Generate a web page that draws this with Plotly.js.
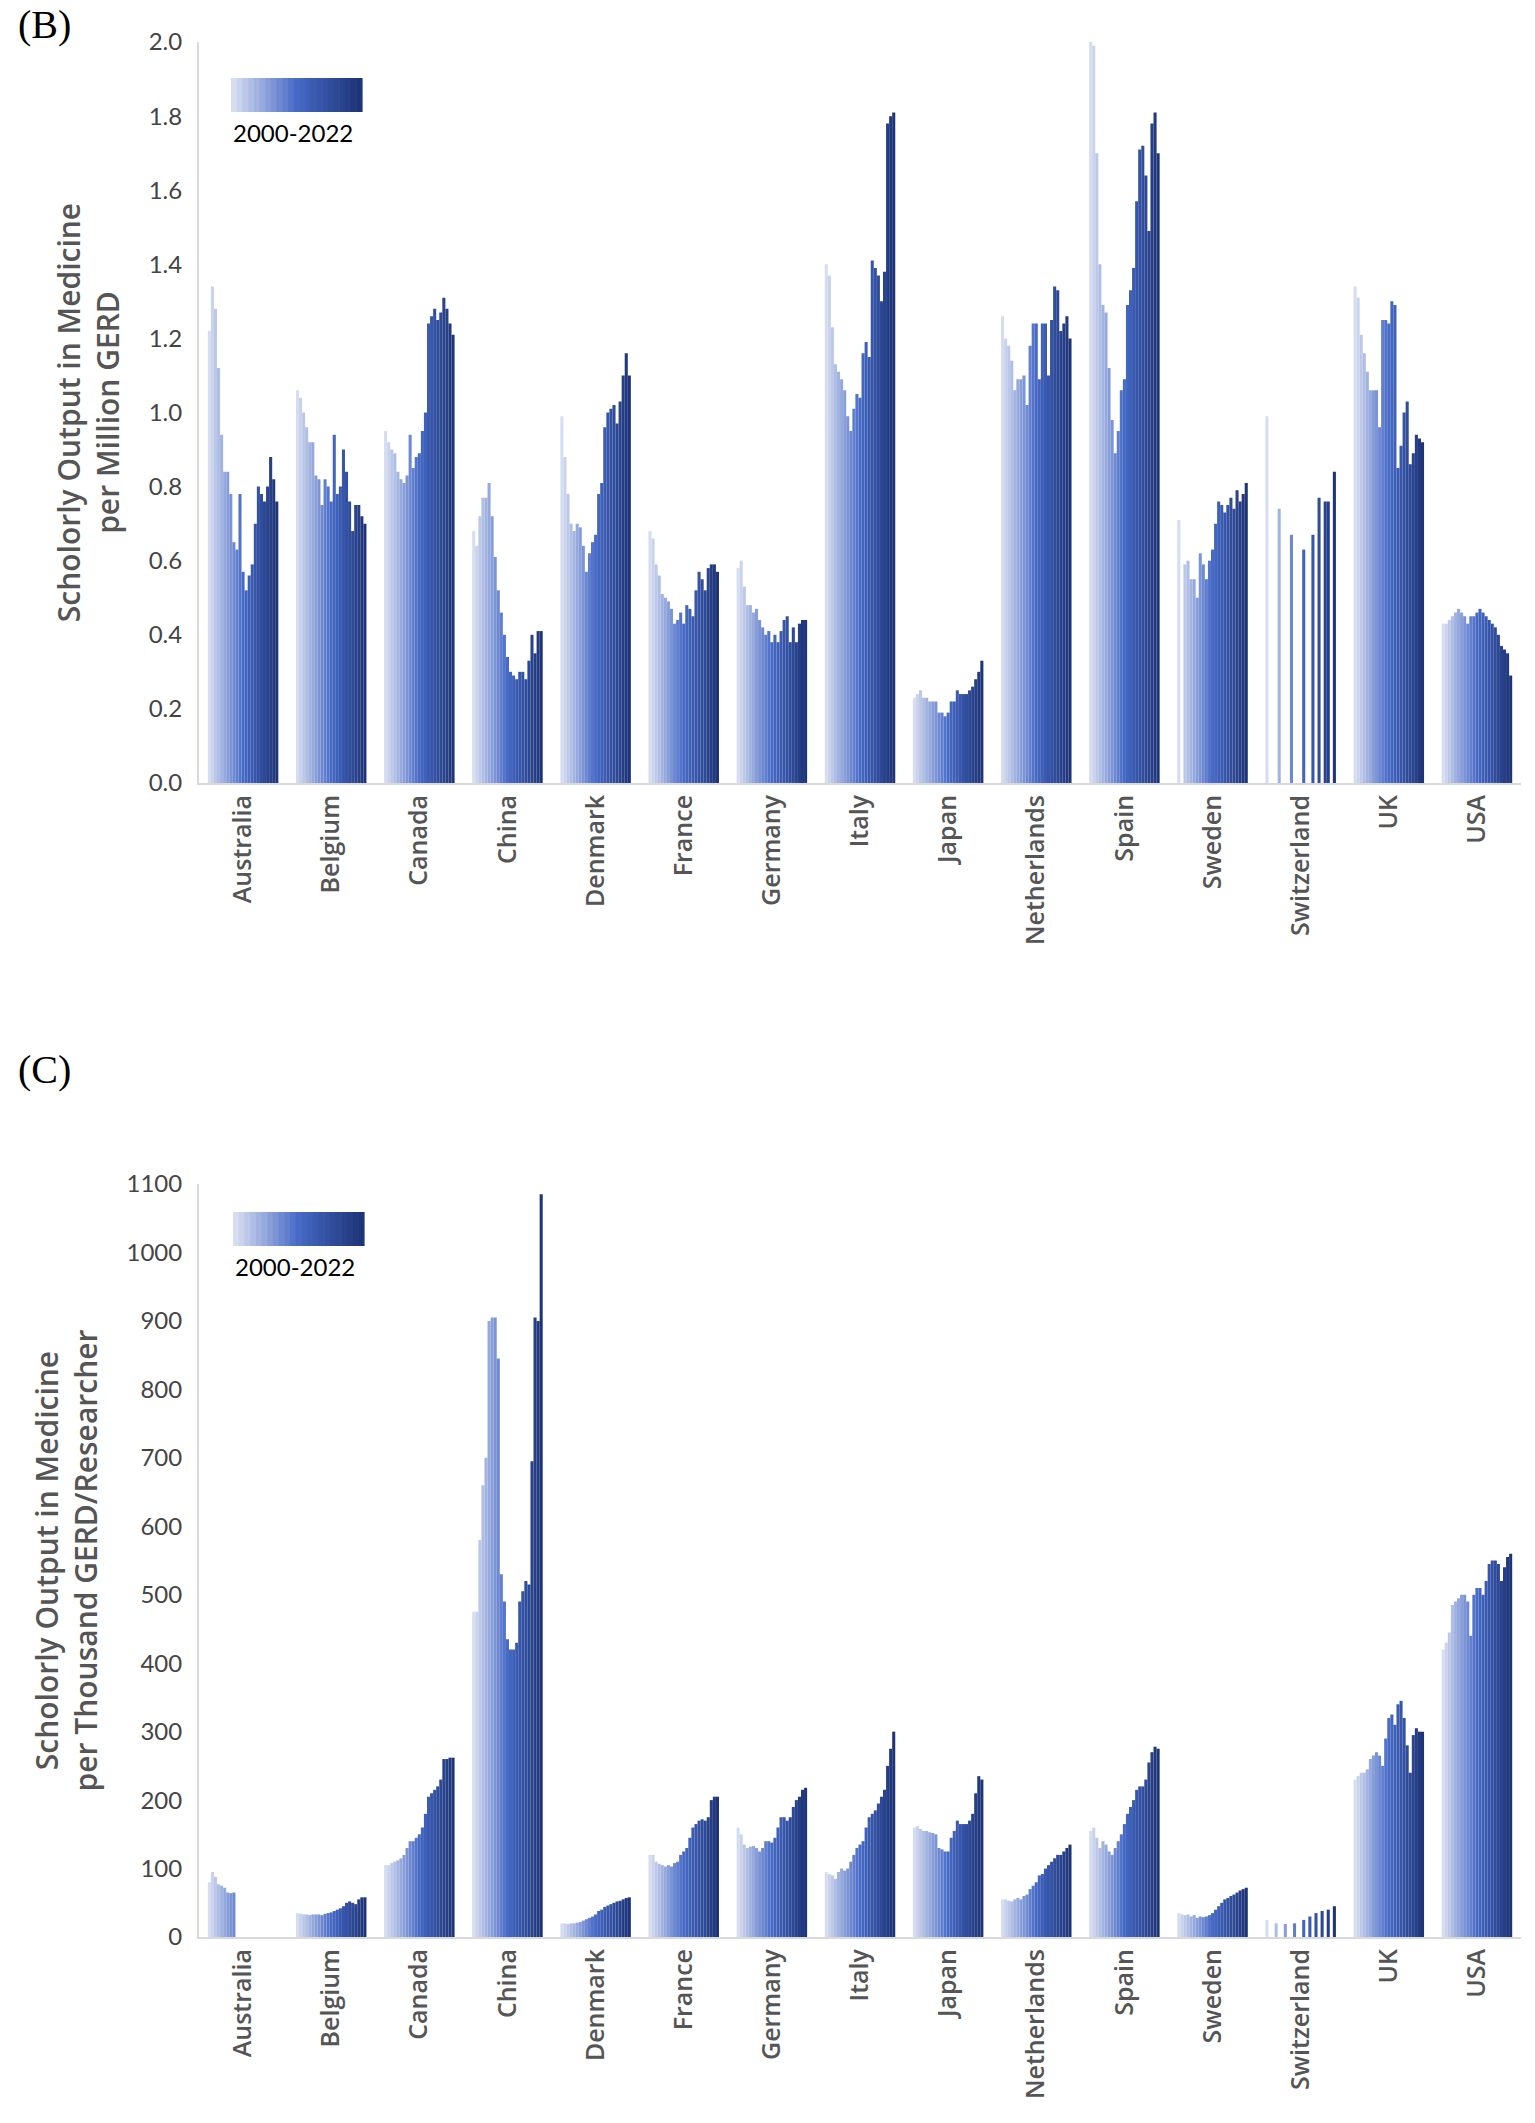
<!DOCTYPE html>
<html>
<head>
<meta charset="utf-8">
<script src="https://cdn.plot.ly/plotly-3.0.1.min.js"></script>
<style>body{margin:0;background:#fff}#myDiv{width:1535px;height:2123px}</style>
</head>
<body>
<div id="myDiv"></div>
<script>
var countries = ['Australia','Belgium','Canada','China','Denmark','France','Germany','Italy','Japan','Netherlands','Spain','Sweden','Switzerland','UK','USA'];
var years = [];
for (var yr = 2000; yr <= 2022; yr++) years.push(String(yr));

// Panel B: per million GERD, one row per country, 2000..2022
var gerdB = {
  Australia: [1.22,1.34,1.28,1.12,0.94,0.84,0.84,0.78,0.65,0.63,0.78,0.57,0.52,0.56,0.59,0.70,0.80,0.78,0.76,0.80,0.88,0.82,0.76],
  Belgium: [1.06,1.04,1.00,0.96,0.92,0.92,0.83,0.82,0.75,0.82,0.80,0.76,0.94,0.78,0.80,0.90,0.84,0.76,0.68,0.75,0.75,0.72,0.70],
  Canada: [0.95,0.92,0.90,0.89,0.84,0.82,0.81,0.83,0.94,0.85,0.88,0.89,0.95,1.00,1.24,1.26,1.28,1.25,1.27,1.31,1.28,1.24,1.21],
  China: [0.68,0.64,0.72,0.77,0.77,0.81,0.72,0.61,0.52,0.46,0.40,0.34,0.30,0.29,0.28,0.30,0.30,0.28,0.33,0.40,0.35,0.41,0.41],
  Denmark: [0.99,0.88,0.78,0.70,0.68,0.70,0.69,0.64,0.57,0.62,0.65,0.67,0.78,0.81,0.96,1.00,1.01,1.02,0.97,1.03,1.10,1.16,1.10],
  France: [0.68,0.66,0.59,0.56,0.51,0.50,0.49,0.47,0.43,0.44,0.46,0.43,0.48,0.47,0.45,0.52,0.57,0.55,0.52,0.58,0.59,0.59,0.57],
  Germany: [0.58,0.60,0.53,0.48,0.48,0.46,0.47,0.44,0.42,0.40,0.41,0.38,0.40,0.38,0.41,0.44,0.45,0.38,0.42,0.38,0.43,0.44,0.44],
  Italy: [1.40,1.37,1.23,1.13,1.11,1.09,1.06,0.99,0.95,1.01,1.05,1.04,1.16,1.19,1.15,1.41,1.39,1.37,1.30,1.38,1.78,1.80,1.81],
  Japan: [0.23,0.24,0.25,0.23,0.23,0.22,0.22,0.22,0.19,0.19,0.18,0.19,0.22,0.22,0.25,0.24,0.24,0.24,0.25,0.26,0.28,0.30,0.33],
  Netherlands: [1.26,1.20,1.18,1.14,1.06,1.09,1.09,1.10,1.02,1.18,1.24,1.24,1.09,1.24,1.24,1.10,1.25,1.34,1.33,1.22,1.24,1.26,1.20],
  Spain: [2.00,1.99,1.70,1.40,1.29,1.27,1.12,0.98,0.89,0.95,1.06,1.09,1.29,1.33,1.39,1.57,1.71,1.72,1.64,1.49,1.78,1.81,1.70],
  Sweden: [0.71,null,0.59,0.60,0.55,0.55,0.50,0.62,0.59,0.55,0.60,0.63,0.70,0.76,0.75,0.73,0.75,0.77,0.74,0.79,0.76,0.78,0.81],
  Switzerland: [0.99,null,null,null,0.74,null,null,null,0.67,null,null,null,0.63,null,null,0.67,null,0.77,null,0.76,0.76,null,0.84],
  UK: [1.34,1.31,1.21,1.16,1.11,1.06,1.06,1.06,0.96,1.25,1.25,1.24,1.30,1.29,0.85,0.91,1.00,1.03,0.86,0.89,0.94,0.93,0.92],
  USA: [0.43,0.43,0.44,0.45,0.46,0.47,0.46,0.45,0.43,0.45,0.45,0.46,0.47,0.46,0.45,0.44,0.43,0.42,0.40,0.37,0.36,0.35,0.29]
};

// Panel C: per thousand GERD/researcher
var gerdC = {
  Australia: [80,95,88,77,75,72,65,64,65,null,null,null,null,null,null,null,null,null,null,null,null,null,null],
  Belgium: [35,34,33,33,32,33,33,33,32,34,35,36,38,40,42,45,50,52,50,48,55,58,58],
  Canada: [105,105,108,110,112,115,120,130,140,140,145,150,160,180,205,210,215,220,230,260,260,262,262],
  China: [475,475,580,660,700,900,905,905,845,530,490,435,420,420,430,490,505,520,515,695,905,900,1085],
  Denmark: [20,20,19,20,20,21,22,24,26,28,30,33,38,40,44,46,48,50,52,53,55,57,58],
  France: [120,120,110,107,105,103,105,103,108,110,120,125,130,145,160,165,170,172,170,175,200,205,205],
  Germany: [160,150,135,130,132,133,130,125,130,140,140,138,145,160,175,175,170,175,190,200,205,215,218],
  Italy: [95,92,90,85,95,100,97,100,110,120,130,135,140,160,175,180,185,195,205,215,250,275,300],
  Japan: [160,162,158,155,155,153,152,150,130,128,125,125,145,155,170,165,165,165,170,180,210,235,230],
  Netherlands: [55,55,53,52,55,57,55,60,62,70,75,80,90,92,100,105,110,115,120,120,125,130,135],
  Spain: [155,160,145,130,140,135,125,120,130,140,150,165,180,190,200,215,220,220,230,255,270,278,275],
  Sweden: [35,33,32,33,30,32,28,30,29,30,32,35,40,45,50,55,57,60,62,65,68,70,72],
  Switzerland: [25,null,null,20,null,null,19,null,null,20,null,null,25,null,30,null,35,null,38,null,40,null,45],
  UK: [230,235,240,240,245,260,265,270,265,250,290,320,325,310,340,345,320,280,240,295,305,300,300],
  USA: [420,430,445,485,490,495,500,500,490,440,500,510,510,500,520,545,550,550,545,520,540,555,560]
};

function yearColor(i) {
  var stops = [[215,221,240],[70,106,198],[30,52,120]];
  var t = i / 22, a, b, f;
  if (t < 0.5) { a = stops[0]; b = stops[1]; f = t / 0.5; }
  else { a = stops[1]; b = stops[2]; f = (t - 0.5) / 0.5; }
  return 'rgb(' + [0,1,2].map(function (k) { return Math.round(a[k] + (b[k] - a[k]) * f); }).join(',') + ')';
}

var data = [];
years.forEach(function (y, i) {
  data.push({
    type: 'bar', x: countries, y: countries.map(function (c) { return gerdB[c][i]; }),
    name: y, marker: {color: yearColor(i)}, xaxis: 'x', yaxis: 'y', showlegend: false
  });
  data.push({
    type: 'bar', x: countries, y: countries.map(function (c) { return gerdC[c][i]; }),
    name: y, marker: {color: yearColor(i)}, xaxis: 'x2', yaxis: 'y2', showlegend: false
  });
});

var tickF = {family: 'Lato, sans-serif', size: 24, color: '#444'};
var catF = {family: 'Open Sans, sans-serif', size: 25, color: '#555', weight: 600};
var titF = {family: 'Open Sans, sans-serif', size: 30, color: '#555', weight: 600};

// legend gradient boxes
var shapes = [];
function legendBar(x0, y0) {
  var w = 131 / 23;
  for (var i = 0; i < 23; i++) {
    shapes.push({type: 'rect', xref: 'paper', yref: 'paper', layer: 'above',
      x0: (x0 + i * w - 199) / 1322, x1: (x0 + (i + 1) * w - 199 + 0.6) / 1322,
      y0: 1 - (y0 + 34) / 2123, y1: 1 - y0 / 2123,
      line: {width: 0}, fillcolor: yearColor(i)});
  }
}
legendBar(231, 78);
legendBar(233, 1212);

var layout = {
  width: 1535, height: 2123,
  margin: {l: 199, r: 14, t: 0, b: 0},
  paper_bgcolor: '#fff', plot_bgcolor: '#fff',
  barmode: 'group', bargap: 0.2, bargroupgap: 0,
  xaxis: {domain: [0, 1], anchor: 'y', tickangle: -90, tickfont: catF, showline: true, linecolor: '#d9d9d9', linewidth: 2, ticks: '', ticklen: 12, tickcolor: '#fff'},
  yaxis: {domain: [0.6312, 0.9802], range: [0, 2.0], dtick: 0.2, tickformat: '.1f', showgrid: false, showline: true, linecolor: '#d9d9d9', linewidth: 2, zeroline: false, tickfont: tickF, ticks: 'outside', ticklen: 10, tickcolor: '#fff',
    title: {text: 'Scholorly Output in Medicine<br>per Million GERD', font: titF, standoff: 20}},
  xaxis2: {domain: [0, 1], anchor: 'y2', tickangle: -90, tickfont: catF, showline: true, linecolor: '#d9d9d9', linewidth: 2, ticks: '', ticklen: 12, tickcolor: '#fff'},
  yaxis2: {domain: [0.0876, 0.4423], range: [0, 1100], dtick: 100, showgrid: false, showline: true, linecolor: '#d9d9d9', linewidth: 2, zeroline: false, tickfont: tickF, ticks: 'outside', ticklen: 10, tickcolor: '#fff',
    title: {text: 'Scholorly Output in Medicine<br>per Thousand GERD/Researcher', font: titF, standoff: 20}},
  shapes: shapes,
  annotations: [
    {text: '(B)', xref: 'paper', yref: 'paper', x: -199 / 1322, y: 1, xanchor: 'left', yanchor: 'top', showarrow: false, xshift: 16, font: {family: 'Liberation Serif, serif', size: 40, color: '#000'}},
    {text: '(C)', xref: 'paper', yref: 'paper', x: -199 / 1322, y: 1 - 1045 / 2123, xanchor: 'left', yanchor: 'top', showarrow: false, xshift: 16, font: {family: 'Liberation Serif, serif', size: 40, color: '#000'}},
    {text: '2000-2022', xref: 'paper', yref: 'paper', x: (231 - 199) / 1322, y: 1 - 116 / 2123, xanchor: 'left', yanchor: 'top', showarrow: false, font: {family: 'Lato, sans-serif', size: 24, color: '#000'}},
    {text: '2000-2022', xref: 'paper', yref: 'paper', x: (233 - 199) / 1322, y: 1 - 1250 / 2123, xanchor: 'left', yanchor: 'top', showarrow: false, font: {family: 'Lato, sans-serif', size: 24, color: '#000'}}
  ]
};

Plotly.newPlot('myDiv', data, layout, {staticPlot: true});
</script>
</body>
</html>
